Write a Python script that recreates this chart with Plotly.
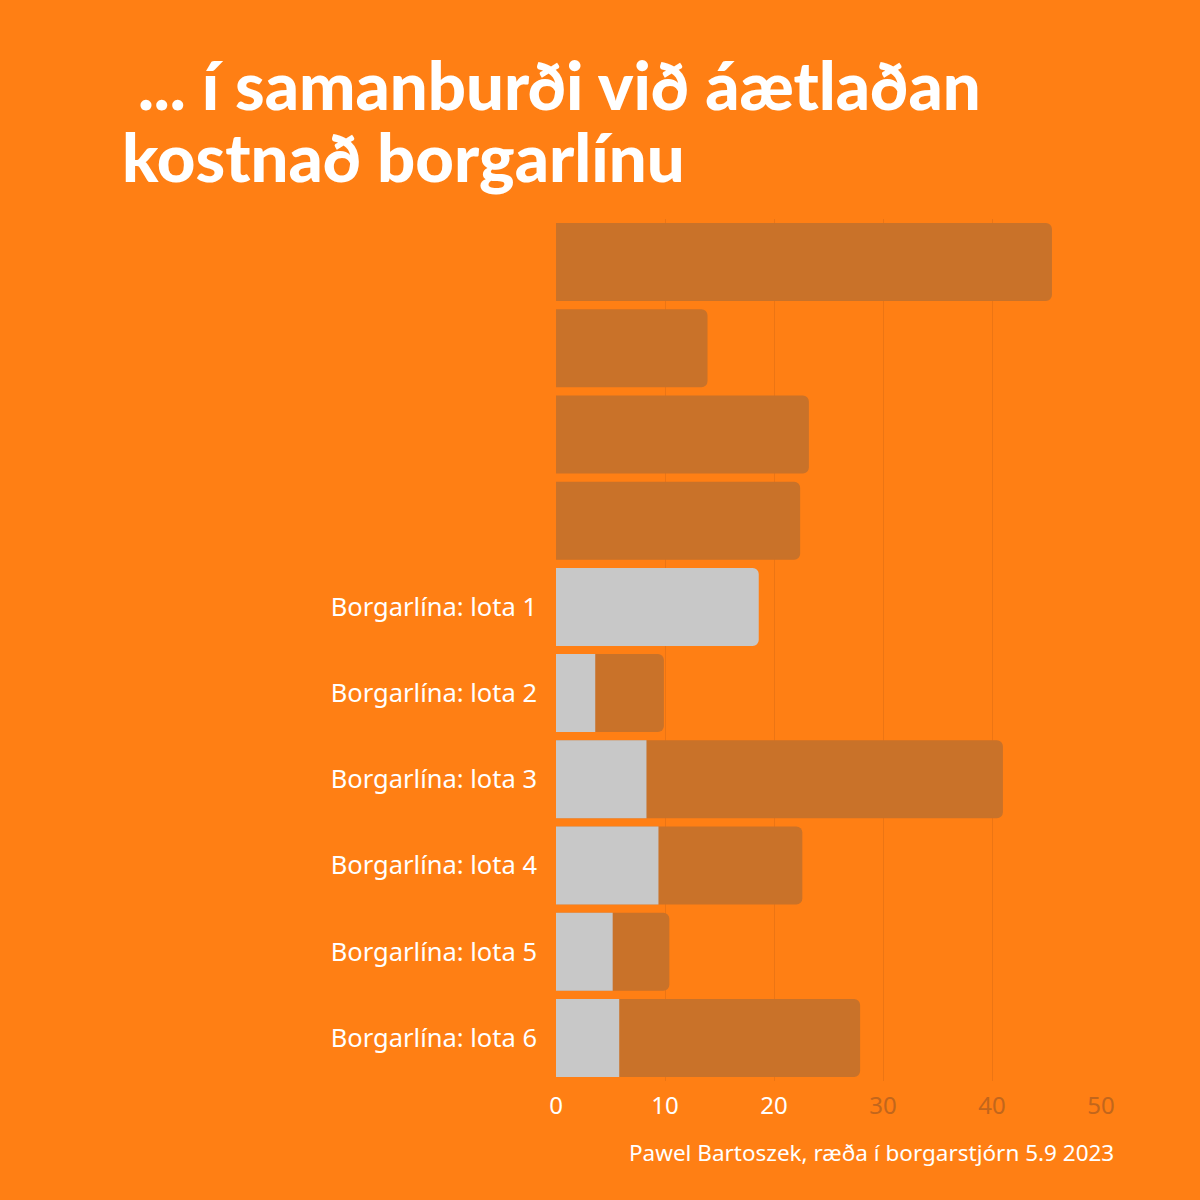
import plotly.graph_objects as go

labels = ["", "", "", "",
          "Borgarlína: lota 1", "Borgarlína: lota 2", "Borgarlína: lota 3",
          "Borgarlína: lota 4", "Borgarlína: lota 5", "Borgarlína: lota 6"]
planned = [45.5, 13.9, 23.2, 22.4, None, 9.9, 41.0, 22.6, 10.4, 27.9]
actual = [None, None, None, None, 18.6, 3.6, 8.3, 9.4, 5.2, 5.8]
tick_vals = [0, 10, 20, 30, 40, 50]
tick_colors = ["white", "white", "white", "#C2661C", "#C2661C", "#C2661C"]
title_lines = ["&nbsp;... í samanburði við áætlaðan", "kostnað borgarlínu"]

BG = "#FF7F14"
BROWN = "#C97229"
GREY = "#C8C8C8"

pos = list(range(len(labels)))

fig = go.Figure()
fig.add_trace(go.Bar(y=pos, x=planned, orientation="h", marker=dict(color=BROWN, line_width=0),
                     showlegend=False))
fig.add_trace(go.Bar(y=pos, x=actual, orientation="h", marker=dict(color=GREY, line_width=0),
                     showlegend=False))

L, R, T, B = 556, 99, 219, 119
plot_w = 1200 - L - R
plot_h = 1200 - T - B

def px_x(x):
    return (x - L) / plot_w

def px_y(y):
    return (1200 - B - y) / plot_h

annotations = []
for line, bottom in zip(title_lines, [126, 198]):
    annotations.append(dict(text=line, x=px_x(120), xref="paper", xanchor="left",
                            y=px_y(bottom), yref="paper", yanchor="bottom", align="left",
                            showarrow=False,
                            font=dict(family="Lato", size=67, color="white", weight=900)))
annotations.append(dict(text="Pawel Bartoszek, ræða í borgarstjórn 5.9 2023",
                        x=px_x(1116), xref="paper", xanchor="right",
                        y=px_y(1152), yref="paper", yanchor="middle",
                        showarrow=False, font=dict(size=22.5, color="white", family="Noto Sans")))

fig.update_layout(
    width=1200, height=1200,
    paper_bgcolor=BG, plot_bgcolor=BG,
    barmode="overlay", bargap=0.095, barcornerradius=6,
    margin=dict(l=L, r=R, t=T, b=B),
    font=dict(family="Noto Sans", color="white"),
    annotations=annotations,
)

fig.update_xaxes(range=[0, 50], tickvals=tick_vals,
                 ticktext=[f"<span style='color:{c}'>{v}</span>" for v, c in zip(tick_vals, tick_colors)],
                 tickfont=dict(size=24, family="Noto Sans"),
                 showgrid=True, gridcolor="rgba(200,100,20,0.35)", gridwidth=1,
                 zeroline=False, showline=False, ticks="", ticklabelstandoff=8)
fig.update_yaxes(tickvals=pos, ticktext=labels, autorange="reversed",
                 range=[9.5, -0.5], tickfont=dict(size=25.5, family="Noto Sans", color="white"),
                 showgrid=False, zeroline=False, showline=False, ticks="", ticklabelstandoff=18)

fig.write_html("out.html")
